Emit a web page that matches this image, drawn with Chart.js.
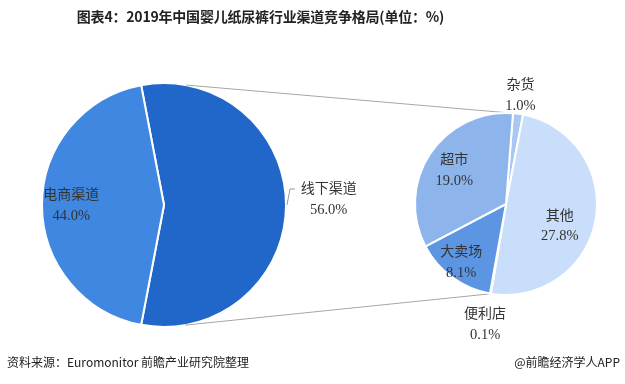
<!DOCTYPE html>
<html><head><meta charset="utf-8">
<script src="https://cdn.jsdelivr.net/npm/chart.js@4/dist/chart.umd.min.js"></script>
<style>
html,body{margin:0;padding:0;background:#fff;}
#wrap{position:relative;width:625px;height:384px;overflow:hidden;font-family:"Noto Sans CJK SC","Noto Sans",sans-serif;}
canvas{position:absolute;left:0;top:0;}
#title{position:absolute;left:0;width:521px;top:6px;text-align:center;font-size:14px;font-weight:bold;color:#222;letter-spacing:-0.2px;}
#src{position:absolute;left:7px;top:353px;font-size:12px;color:#222;}
#app{position:absolute;right:5px;top:353px;font-size:12px;color:#222;}
</style></head>
<body><div id="wrap">
<canvas id="c1" width="625" height="384"></canvas>
<canvas id="c2" width="625" height="384"></canvas>
<div id="title">图表4：2019年中国婴儿纸尿裤行业渠道竞争格局(单位：%)</div>
<div id="src">资料来源：Euromonitor 前瞻产业研究院整理</div>
<div id="app">@前瞻经济学人APP</div>
</div>
<script>
// ---- data ----
const mainLabels = ["线下渠道", "电商渠道"];
const mainValues = [56.0, 44.0];
const subLabels = ["杂货", "其他", "便利店", "大卖场", "超市"];
const subValues = [1.0, 27.8, 0.1, 8.1, 19.0];

// ---- styling ----
const mainColors = ["#2167c9", "#3f87e0"];
const subColors = ["#a9c8f1", "#c9defa", "#a9c8f1", "#5c95e2", "#8db5ec"];
// label placement: radial factor of radius, plus nudge
const mainLabelPlace = [{f:1.35, dx:0, dy:-6, outside:true}, {f:0.76, dx:0, dy:0}];
const subLabelPlace = [{f:1.2, dx:0, dy:-1}, {f:0.6, dx:0, dy:12}, {f:1.34, dx:0, dy:0}, {f:0.76, dx:-4, dy:2}, {f:0.68, dx:0, dy:0}];
const numFont = '14.5px "Liberation Serif","Noto Sans CJK SC",serif';
const cjkFont = '14px "Noto Sans CJK SC",sans-serif';

function labelPlugin(places, labels, values, leader){
  return {
    id:'lbl',
    afterDatasetsDraw(chart){
      const ctx = chart.ctx;
      const meta = chart.getDatasetMeta(0);
      meta.data.forEach((arc,i)=>{
        const p = places[i];
        const mid = (arc.startAngle + arc.endAngle)/2;
        const r = arc.outerRadius * p.f;
        const x = arc.x + Math.cos(mid)*r + p.dx;
        const y = arc.y + Math.sin(mid)*r + p.dy;
        ctx.save();
        ctx.fillStyle = '#333';
        ctx.textAlign = 'center';
        ctx.textBaseline = 'middle';
        ctx.font = cjkFont;
        ctx.fillText(labels[i], x, y-11);
        ctx.font = numFont;
        ctx.fillText(values[i].toFixed(1)+'%', x, y+11);
        if (leader && p.outside){
          const ex = arc.x + Math.cos(mid)*arc.outerRadius;
          const ey = arc.y + Math.sin(mid)*arc.outerRadius;
          ctx.strokeStyle = '#999';
          ctx.lineWidth = 1;
          ctx.beginPath();
          ctx.moveTo(ex+1, ey);
          ctx.lineTo(ex+4, y-10);
          ctx.lineTo(ex+9, y-10);
          ctx.stroke();
        }
        ctx.restore();
      });
    }
  };
}

const chart1 = new Chart(document.getElementById('c1'), {
  type:'pie',
  data:{labels:mainLabels, datasets:[{data:mainValues, backgroundColor:mainColors, borderColor:'#fff', borderWidth:2}]},
  options:{
    responsive:false, animation:false, rotation:-10.8,
    layout:{padding:{left:41, right:338, top:82, bottom:56}},
    plugins:{legend:{display:false}, tooltip:{enabled:false}}
  },
  plugins:[labelPlugin(mainLabelPlace, mainLabels, mainValues, true)]
});

const connectorPlugin = {
  id:'conn',
  beforeDatasetsDraw(chart){
    const m = chart1.getDatasetMeta(0).data[0];
    const s = chart.getDatasetMeta(0).data;
    const ctx = chart.ctx;
    const a1 = -Math.PI/2 + 10.5*Math.PI/180;
    const a2 = -Math.PI/2 + 170*Math.PI/180;
    const p1 = [m.x + Math.cos(a1)*m.outerRadius, m.y + Math.sin(a1)*m.outerRadius];
    const p2 = [m.x + Math.cos(a2)*m.outerRadius, m.y + Math.sin(a2)*m.outerRadius];
    const q1a = s[0].startAngle, q2a = s[1].endAngle;
    const q1 = [s[0].x + Math.cos(q1a)*s[0].outerRadius, s[0].y + Math.sin(q1a)*s[0].outerRadius];
    const q2 = [s[0].x + Math.cos(q2a)*s[0].outerRadius, s[0].y + Math.sin(q2a)*s[0].outerRadius];
    ctx.save();
    ctx.strokeStyle = '#a6a6a6';
    ctx.lineWidth = 1;
    ctx.beginPath();
    ctx.moveTo(p1[0], p1[1]); ctx.lineTo(q1[0], q1[1]);
    ctx.moveTo(p2[0], p2[1]); ctx.lineTo(q2[0], q2[1]);
    ctx.stroke();
    ctx.restore();
  }
};

new Chart(document.getElementById('c2'), {
  type:'pie',
  data:{labels:subLabels, datasets:[{data:subValues, backgroundColor:subColors, borderColor:'#fff', borderWidth:2}]},
  options:{
    responsive:false, animation:false, rotation:4.4,
    layout:{padding:{left:414, right:27, top:112, bottom:88}},
    plugins:{legend:{display:false}, tooltip:{enabled:false}}
  },
  plugins:[connectorPlugin, labelPlugin(subLabelPlace, subLabels, subValues, false)]
});
</script>
</body></html>
